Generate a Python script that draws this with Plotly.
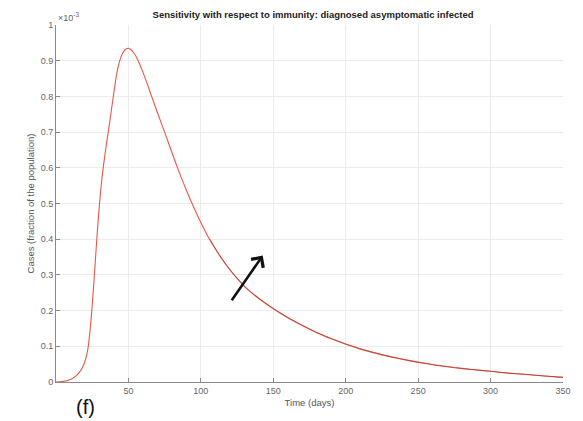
import plotly.graph_objects as go

# Time axis (days) and diagnosed asymptomatic infected (units of 1e-3 of the population)
days = [0, 4, 8, 11, 14, 17, 19, 20.5, 22, 23, 24, 25, 26, 27, 28, 29, 30, 31, 32,
        33, 34, 35, 36.5, 38, 40, 42, 44, 46, 48, 50, 52, 54, 56, 58, 60, 63, 66,
        70, 75, 80, 85, 90, 95, 100, 106, 112, 118, 125, 132, 140, 150, 160, 170,
        180, 190, 200, 212, 225, 237, 250, 262, 275, 287, 300, 312, 325, 337, 350]
cases_base = [0.0, 0.001, 0.004, 0.009, 0.018, 0.032, 0.047, 0.065, 0.092, 0.125,
              0.165, 0.215, 0.27, 0.33, 0.39, 0.447, 0.498, 0.542, 0.58, 0.613,
              0.643, 0.672, 0.712, 0.755, 0.812, 0.865, 0.9, 0.921, 0.932, 0.935,
              0.93, 0.92, 0.906, 0.888, 0.868, 0.835, 0.80, 0.755, 0.70, 0.643,
              0.588, 0.537, 0.49, 0.447, 0.40, 0.36, 0.325, 0.29, 0.26, 0.234,
              0.205, 0.18, 0.158, 0.138, 0.121, 0.106, 0.09, 0.076, 0.065, 0.055,
              0.047, 0.040, 0.035, 0.030, 0.025, 0.021, 0.017, 0.013]

# Higher-immunity run, visible only as a darker core in the tail
days_high = [106, 112, 118, 125, 132, 140, 150, 160, 170, 180, 190, 200, 212, 225,
             237, 250, 262, 275, 287, 300, 312, 325, 337, 350]
cases_high = [0.401, 0.361, 0.326, 0.291, 0.261, 0.235, 0.206, 0.181, 0.159, 0.139,
              0.122, 0.107, 0.091, 0.077, 0.066, 0.056, 0.048, 0.041, 0.035, 0.030,
              0.025, 0.021, 0.017, 0.013]

x_ticks = [50, 100, 150, 200, 250, 300, 350]
y_ticks = [0, 0.1, 0.2, 0.3, 0.4, 0.5, 0.6, 0.7, 0.8, 0.9, 1]
y_labels = ["0", "0.1", "0.2", "0.3", "0.4", "0.5", "0.6", "0.7", "0.8", "0.9", "1"]

FONT = "Liberation Sans, Arial, sans-serif"

fig = go.Figure()
fig.add_trace(go.Scatter(x=days, y=cases_base, mode="lines",
                         line=dict(color="#e8574a", width=1.1, shape="spline", smoothing=0.5),
                         hoverinfo="x+y", showlegend=False))
fig.add_trace(go.Scatter(x=days_high, y=cases_high, mode="lines",
                         line=dict(color="#a8322a", width=0.8, shape="spline", smoothing=0.5),
                         opacity=0.8, hoverinfo="x+y", showlegend=False))

axis_common = dict(showline=True, linecolor="#8a8a8a", linewidth=1, mirror=False,
                   ticks="inside", ticklen=4, tickcolor="#8a8a8a",
                   showgrid=True, gridcolor="#ececec", gridwidth=1, zeroline=False,
                   tickfont=dict(family=FONT, size=9, color="#666666"))

fig.update_layout(
    width=583, height=421,
    margin=dict(l=56, r=13, t=25, b=39),
    paper_bgcolor="white", plot_bgcolor="white",
    title=dict(text="<b>Sensitivity with respect to immunity: diagnosed asymptomatic infected</b>",
               x=0.537, xanchor="center", y=0.966, yanchor="middle",
               font=dict(family=FONT, size=9.5, color="#222222")),
    xaxis=dict(range=[0, 350], tickvals=x_ticks, **axis_common,
               title=dict(text="Time (days)", standoff=4,
                          font=dict(family=FONT, size=9.5, color="#555555"))),
    yaxis=dict(range=[0, 1], tickvals=y_ticks, ticktext=y_labels, **axis_common,
               title=dict(text="Cases (fraction of the population)", standoff=4,
                          font=dict(family=FONT, size=9.5, color="#555555"))),
    annotations=[
        dict(text="×10<sup>-3</sup>", xref="paper", yref="paper", x=0.0, y=1.0,
             xanchor="left", yanchor="bottom", showarrow=False,
             font=dict(family=FONT, size=9, color="#666666")),
        dict(text="(f)", xref="paper", yref="paper", x=0.058, y=-0.035,
             xanchor="center", yanchor="top", showarrow=False,
             font=dict(family=FONT, size=20, color="#111111")),
        dict(x=142.7, y=0.354, ax=120.6, ay=0.225, xref="x", yref="y",
             axref="x", ayref="y", text="", showarrow=True,
             arrowhead=4, arrowsize=1.1, arrowwidth=2.6, arrowcolor="#111111"),
    ],
)

fig.write_html("out.html")
